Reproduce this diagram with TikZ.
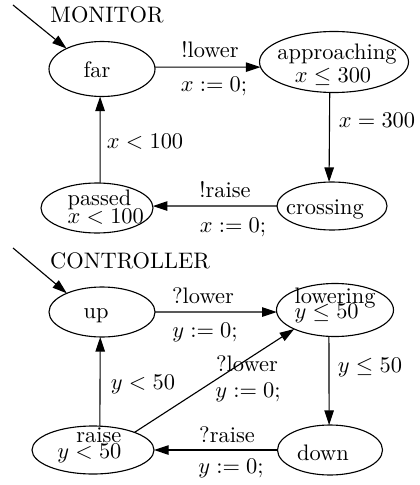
\documentclass[tikz,border=0pt]{standalone}
\usetikzlibrary{arrows.meta,shapes.geometric}
\newcommand\pxl[1]{#1*0.446pt}
\begin{document}
\begin{tikzpicture}[x=0.446pt,y=-0.446pt, line width=0.5pt,
  state/.style={ellipse, draw, inner sep=0pt, outer sep=0pt},
  tr/.style={-{Triangle[length=6.5pt,width=4.2pt]}},
  lbl/.style={anchor=base, inner sep=0pt},
  lblw/.style={anchor=base west, inner sep=0pt},
  lble/.style={anchor=base east, inner sep=0pt}]
\useasboundingbox (0,0) rectangle (419,485);

% ---------- MONITOR ----------
\node[lbl] (mtitle) at (107,23) {MONITOR};
\node[state, minimum width=\pxl{106}, minimum height=\pxl{55}] (far) at (102,69) {};
\node[state, minimum width=\pxl{149}, minimum height=\pxl{61}] (app) at (334,62) {};
\node[state, minimum width=\pxl{110}, minimum height=\pxl{48}] (cross) at (332,206) {};
\node[state, minimum width=\pxl{112}, minimum height=\pxl{50}] (passed) at (97,208) {};

\node[lbl] (tfar) at (97,78) {far};
\node[lbl] (tapp1) at (337,60) {approaching};
\node[lbl] (tapp2) at (333,83) {$x\leq 300$};
\node[lbl] (tcross) at (325,214) {crossing};
\node[lblw] (tpass1) at (67,205) {passed};
\node[lblw] (tpass2) at (67,223) {$x<100$};

\coordinate (minit) at (13,5);
\draw[tr] (minit) -- (far.150);
\draw[tr] (far.2) -- (app.184);
\draw[tr] (app.262) -- (cross.97);
\draw[tr] (cross.west) -- (passed.2);
\draw[tr] (passed.83) -- (far.266);

\node[lbl] (l1) at (210,58) {!lower};
\node[lbl] (l2) at (214,92) {$x:=0;$};
\node[lbl] (l3) at (377,127) {$x=300$};
\node[lbl] (l4) at (145,148) {$x<100$};
\node[lbl] (l5) at (225,197) {!raise};
\node[lbl] (l6) at (233,232) {$x:=0;$};

% ---------- CONTROLLER ----------
\node[lbl] (ctitle) at (130,268) {CONTROLLER};
\node[state, minimum width=\pxl{106}, minimum height=\pxl{50}] (up) at (102,312) {};
\node[state, minimum width=\pxl{117}, minimum height=\pxl{53}] (low) at (335,310) {};
\node[state, minimum width=\pxl{105}, minimum height=\pxl{50}] (down) at (330,450) {};
\node[state, minimum width=\pxl{122}, minimum height=\pxl{48}] (raise) at (93,450) {};

\node[lbl] (tup) at (96,318) {up};
\node[lblw] (tlow1) at (294,303) {lowering};
\node[lblw] (tlow2) at (294,318) {$y\leq 50$};
\node[lbl] (tdown) at (323,460) {down};
\node[lble] (trai1) at (122,442) {raise};
\node[lble] (trai2) at (122,458) {$y<50$};

\coordinate (cinit) at (13,248);
\draw[tr] (cinit) -- (up.152);
\draw[tr] (up.east) -- (low.182);
\draw[tr] (low.257) -- (down.92);
\draw[tr] (down.west) -- (raise.east);
\draw[tr] (raise.74) -- (up.266);
\draw[tr] (raise.23) -- (low.205);

\node[lbl] (k1) at (203,303) {?lower};
\node[lbl] (k2) at (205,337) {$y:=0;$};
\node[lbl] (k3) at (143,389) {$y<50$};
\node[lbl] (k4) at (247,371) {?lower};
\node[lbl] (k5) at (248,397) {$y:=0;$};
\node[lbl] (k6) at (370,372) {$y\leq 50$};
\node[lbl] (k7) at (227,442) {?raise};
\node[lbl] (k8) at (231,473) {$y:=0;$};
\end{tikzpicture}
\end{document}
